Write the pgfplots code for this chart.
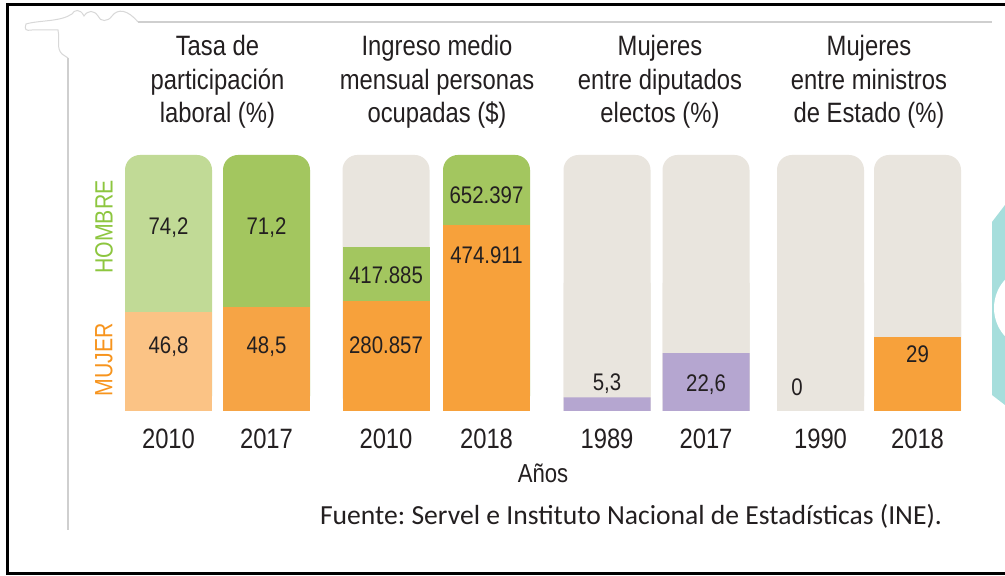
\documentclass[border=0pt]{standalone}
\usepackage{pgfplots}
\pgfplotsset{compat=1.18}
\usepackage{fontspec}
\setmainfont{Liberation Sans}[FakeStretch=0.85]
\newfontfamily\srcfont{Carlito}
\definecolor{hlight}{HTML}{C1DA96}
\definecolor{hgreen}{HTML}{A3C65F}
\definecolor{mlight}{HTML}{FBC385}
\definecolor{morange}{HTML}{F6A445}
\definecolor{iorange}{HTML}{F7A13B}
\definecolor{bgray}{HTML}{E9E5DE}
\definecolor{purp}{HTML}{B5A6D0}
\definecolor{txt}{HTML}{231F20}
\definecolor{labgreen}{HTML}{8DC63F}
\definecolor{laborange}{HTML}{F7941D}
\definecolor{tealc}{HTML}{A6DEDC}
\definecolor{frameg}{HTML}{CFCFCF}
\pgfplotsset{
  panel/.style={scale only axis, width=502.5pt, height=128pt,
    xmin=0, xmax=1005, ymin=0, at={(0pt,82.5pt)}, anchor=south west,
    axis line style={draw=none}, ytick=\empty, xtick=\empty,
    major tick length=0pt, clip=false},
  B/.style={ybar, bar width=87, bar shift=0pt, draw=none, fill=#1, forget plot},
  R/.style={B=#1, rounded corners=7.5pt},
}
\begin{document}
\frenchspacing
\begin{tikzpicture}
\useasboundingbox (0,0) rectangle (502.5pt,288pt);
\fill[white] (0,0) rectangle (502.5pt,288pt);

% Panel 1: labour participation (each bar is 100% = Mujer + Hombre)
\begin{axis}[panel, ymax=1,
  xtick={168.5,266.5,386,486.5,607,706,820.5,917.5},
  xticklabels={2010,2017,2010,2018,1989,2017,1990,2018},
  xticklabel style={font=\fontsize{14pt}{16pt}\selectfont, text=txt, yshift=-5.5pt}]
\addplot[R=hlight] coordinates {(168.5,1)};
\addplot[B=hlight] coordinates {(168.5,0.5)};
\addplot[B=mlight] table[x=x, y expr=\thisrow{m}/(\thisrow{m}+\thisrow{h})] {
x m h
168.5 46.8 74.2
};
\addplot[R=hgreen] coordinates {(266.5,1)};
\addplot[B=hgreen] coordinates {(266.5,0.5)};
\addplot[B=morange] table[x=x, y expr=\thisrow{m}/(\thisrow{m}+\thisrow{h})] {
x m h
266.5 48.5 71.2
};
\end{axis}

% Panel 2: monthly income ($)
\begin{axis}[panel, ymax=652.397]
\addplot[R=bgray] coordinates {(386,652.397)};
\addplot[B=hgreen] coordinates {(386,417.885)};
\addplot[B=iorange] coordinates {(386,280.857)};
\addplot[R=hgreen] coordinates {(486.5,652.397)};
\addplot[B=iorange] coordinates {(486.5,474.911)};
\end{axis}

% Panels 3 and 4: women among deputies / ministers (%)
\begin{axis}[panel, ymax=100]
\addplot[R=bgray] coordinates {(607,100) (706,100) (820.5,100) (917.5,100)};
\addplot[B=bgray] coordinates {(607,50) (706,50) (820.5,50) (917.5,50)};
\addplot[B=purp] coordinates {(607,5.3) (706,22.6)};
\addplot[B=iorange] coordinates {(917.5,29)};
\end{axis}

\begin{scope}[shift={(0pt,288pt)}, x=0.5pt, y=-0.5pt]
% frame
\draw[black, line width=1.5pt] (1005,5) -- (7,5) -- (7,574) -- (1005,574);
\draw[frameg, line width=0.6pt] (68,58) -- (68,530);
\draw[frameg, line width=0.6pt] (138,22) -- (992,22);
\draw[frameg!80, line width=0.5pt] (138,22) .. controls (128,10) and (118,8) .. (112,16)
  .. controls (108,22) and (100,22) .. (98,16) .. controls (94,10) and (88,10) .. (84,16)
  .. controls (80,8) and (74,10) .. (72,14) .. controls (60,22) and (40,20) .. (26,24)
  .. controls (24,30) and (26,31) .. (32,30) -- (58,30)
  .. controls (60,40) and (56,48) .. (62,54) -- (68,58);
% teal decoration
\fill[tealc] (1005,205) -- (992,222) -- (992,395) -- (1005,405) -- cycle;
\fill[white] (1036,308) circle (42);

% titles
\begin{scope}[every node/.style={align=center, text=txt, font=\fontsize{14pt}{16.75pt}\selectfont}]
\node at (217.5,82) {Tasa de\\participación\\laboral (\%)};
\node at (437,82) {Ingreso medio\\mensual personas\\ocupadas (\$)};
\node at (660,82) {Mujeres\\entre diputados\\electos (\%)};
\node at (869,82) {Mujeres\\entre ministros\\de Estado (\%)};
\end{scope}

% legend words
\node[rotate=90, text=labgreen, font=\fontsize{12.5pt}{14pt}\selectfont] at (104,227) {HOMBRE};
\node[rotate=90, text=laborange, font=\fontsize{12.5pt}{14pt}\selectfont] at (104,359.5) {MUJER};

% value labels
\begin{scope}[every node/.style={text=txt, font=\fontsize{12pt}{14pt}\selectfont}]
\node at (168.5,228) {74,2};
\node at (266.5,228) {71,2};
\node at (168.5,347) {46,8};
\node at (266.5,347) {48,5};
\node at (386,275) {417.885};
\node at (386,345) {280.857};
\node at (486.5,195) {652.397};
\node at (486.5,255) {474.911};
\node at (607,384) {5,3};
\node at (706,385) {22,6};
\node at (797,387) {0};
\node at (917.5,354) {29};
\end{scope}

\node[text=txt, font=\fontsize{13pt}{15pt}\selectfont] at (543,473) {Años};
\node[text=txt, font=\srcfont\fontsize{13.8pt}{16pt}\selectfont] at (631,516) {Fuente: Servel e Instituto Nacional de Estadísticas (INE).};
\end{scope}
\end{tikzpicture}
\end{document}
